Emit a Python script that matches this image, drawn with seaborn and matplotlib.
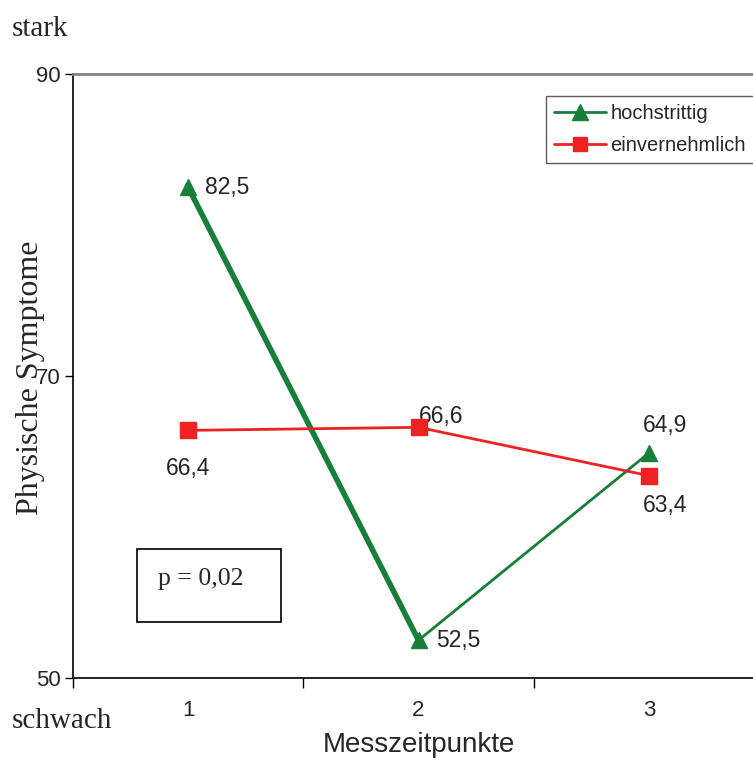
import matplotlib
matplotlib.use("Agg")
import matplotlib.pyplot as plt
import seaborn as sns
import pandas as pd
from matplotlib.lines import Line2D

# data
zeitpunkte = [1, 2, 3]
hochstrittig = [82.5, 52.5, 64.9]
einvernehmlich = [66.4, 66.6, 63.4]
labels_hoch = ["82,5", "52,5", "64,9"]
labels_einv = ["66,4", "66,6", "63,4"]
yticks = [50, 70, 90]
xticklabels = ["1", "2", "3"]

sns.set_style("white")
plt.rcParams['font.family'] = ['Liberation Sans', 'DejaVu Sans']

GREEN = "#177F3A"
RED = "#EE2222"

fig = plt.figure(figsize=(7.53, 7.69), dpi=100)
ax = fig.add_axes([73/753, 91/769, 691/753, 604/769])

df_h = pd.DataFrame({"x": zeitpunkte, "y": hochstrittig})
df_e = pd.DataFrame({"x": zeitpunkte, "y": einvernehmlich})

# green: thick first segment, thin second
sns.lineplot(data=df_h.iloc[0:2], x="x", y="y", ax=ax, color=GREEN, lw=4, legend=False)
sns.lineplot(data=df_h.iloc[1:3], x="x", y="y", ax=ax, color=GREEN, lw=2, legend=False)
sns.lineplot(data=df_e, x="x", y="y", ax=ax, color=RED, lw=2, legend=False)
ax.plot(df_h["x"], df_h["y"], ls="none", marker="^", ms=12, color=GREEN, zorder=5)
ax.plot(df_e["x"], df_e["y"], ls="none", marker="s", ms=11, color=RED, zorder=5)

ax.set_xlim(0.5, 3.5)
ax.set_ylim(50, 90)

# data labels
fs = 16.5
ax.text(1 + 0.075, hochstrittig[0], labels_hoch[0], fontsize=fs, va="center", ha="left")
ax.text(2 + 0.075, hochstrittig[1], labels_hoch[1], fontsize=fs, va="center", ha="left")
ax.text(3 + 0.07, hochstrittig[2] + 1.85, labels_hoch[2], fontsize=fs, va="center", ha="center")
ax.text(1, einvernehmlich[0] - 2.5, labels_einv[0], fontsize=fs, va="center", ha="center")
ax.text(2 + 0.1, einvernehmlich[1] + 0.7, labels_einv[1], fontsize=fs, va="center", ha="center")
ax.text(3 + 0.07, einvernehmlich[2] - 2.0, labels_einv[2], fontsize=fs, va="center", ha="center")

# ticks
ax.set_yticks(yticks)
ax.set_yticklabels([str(v) for v in yticks], fontsize=16)
ax.tick_params(axis="y", direction="out", length=6, width=1, color="black", pad=3, left=True)
ax.set_xticks([0.5, 1.5, 2.5, 3.5])
ax.set_xticklabels([])
ax.tick_params(axis="x", which="major", direction="out", length=7, width=1, color="black", bottom=True)
ax.set_xticks(zeitpunkte, minor=True)
ax.set_xticklabels(xticklabels, minor=True, fontsize=16)
ax.tick_params(axis="x", which="minor", length=0, pad=16)

ax.set_xlabel("Messzeitpunkte", fontsize=20, labelpad=8)
ax.set_ylabel("")

for s in ["left", "bottom"]:
    ax.spines[s].set_color("black")
    ax.spines[s].set_linewidth(1.2)
ax.spines["top"].set_color("#808080")
ax.spines["top"].set_linewidth(2)
ax.spines["right"].set_visible(False)

# y label and extra texts (serif)
serif = ['Liberation Serif', 'DejaVu Serif']
fig.text(31/753, 1 - 378/769, "Physische Symptome", rotation=90, fontsize=23,
         family=serif, ha="center", va="center")
fig.text(12/753, 1 - 29/769, "stark", fontsize=21, family=serif, ha="left", va="center")
fig.text(12/753, 1 - 721/769, "schwach", fontsize=21, family=serif, ha="left", va="center")

# p box
fig.text(201/753, 1 - 579/769, "p = 0,02", fontsize=18.5, family=serif, ha="center", va="center")
fig.patches.append(plt.Rectangle((137/753, 1 - 622/769), 144/753, 73/769, fill=False,
                                 edgecolor="black", lw=1.2, transform=fig.transFigure, figure=fig))

# legend
handles = [Line2D([], [], color=GREEN, lw=2, marker="^", ms=11),
           Line2D([], [], color=RED, lw=2, marker="s", ms=10)]
leg = ax.legend(handles, ["hochstrittig", "einvernehmlich"], loc="upper left",
                bbox_to_anchor=(546/753, 1 - 96/769), bbox_transform=fig.transFigure,
                fontsize=14.5, frameon=True, fancybox=False, edgecolor="#333333",
                handlelength=2.6, handletextpad=0.2, borderpad=0.4, labelspacing=0.65,
                borderaxespad=0)
leg.get_frame().set_linewidth(1)

fig.savefig("out.png", dpi=100)
